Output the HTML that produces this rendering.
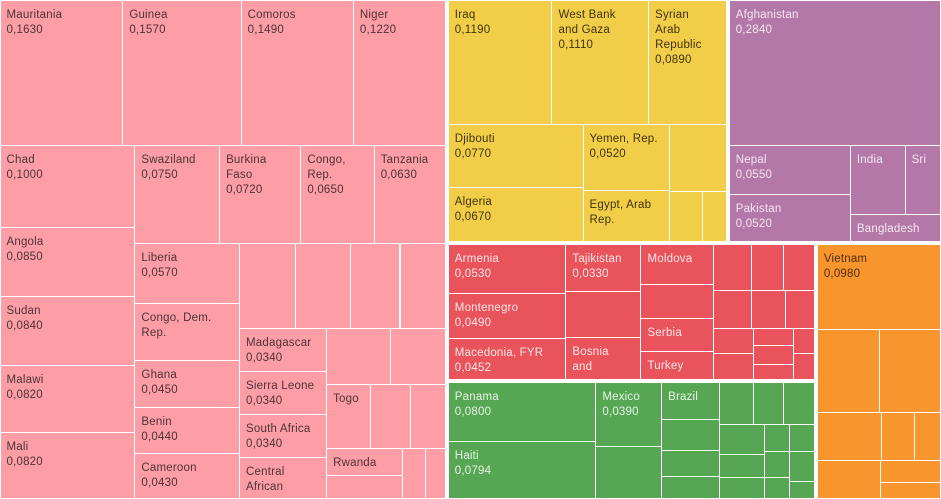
<!DOCTYPE html>
<html><head><meta charset="utf-8">
<style>
html,body{margin:0;padding:0;background:#fff;}
#chart{position:relative;width:941px;height:499px;overflow:hidden;background:#fff;font-family:"Liberation Sans",sans-serif;}
.leaf{position:absolute;overflow:hidden;box-sizing:border-box;}
.lbl{position:absolute;left:6px;top:7px;right:2px;font-size:11.5px;line-height:15px;letter-spacing:0.2px;white-space:nowrap;}
</style></head>
<body>
<div id="chart"></div>
<script>
// ---- data ----
const names = ["Mauritania","Guinea","Comoros","Niger","Chad","Angola","Sudan","Malawi","Mali","Swaziland","Burkina|Faso","Congo,|Rep.","Tanzania","Liberia","Congo, Dem.|Rep.","Ghana","Benin","Cameroon","p1","p2","p3","p4","Madagascar","Sierra Leone","South Africa","Central|African","p5","p6","Togo","p7","p8","Rwanda","p9","p10","p11",
"Iraq","West Bank|and Gaza","Syrian|Arab|Republic","Djibouti","Algeria","Yemen, Rep.","Egypt, Arab|Rep.","y1","y2","y3",
"Afghanistan","Nepal","Pakistan","India","Sri","Bangladesh",
"Armenia","Montenegro","Macedonia, FYR","Tajikistan","r1","Bosnia|and","Moldova","r2","Serbia","Turkey","r3","r4","r5","r6","r7","r8","r9","r10","r11","r12","r13","r14","r15",
"Panama","Haiti","Mexico","g1","Brazil","g2","g3","g4","g5","g6","g7","g8","g9","g10","g11","g12","g13","g14","g15","g16",
"Vietnam","o1","o2","o3","o4","o5","o6","o7","o8"];
const values = [0.1630,0.1570,0.1490,0.1220,0.1000,0.0850,0.0840,0.0820,0.0820,0.0750,0.0720,0.0650,0.0630,0.0570,0.0540,0.0450,0.0440,0.0430,0.043,0.043,0.038,0.035,0.0340,0.0340,0.0340,0.033,0.033,0.028,0.025,0.023,0.020,0.019,0.016,0.011,0.009,
0.1190,0.1110,0.0890,0.0770,0.0670,0.0520,0.040,0.035,0.015,0.011,
0.2840,0.0550,0.0520,0.035,0.023,0.022,
0.0530,0.0490,0.0452,0.0330,0.032,0.029,0.027,0.023,0.022,0.019,0.016,0.014,0.013,0.013,0.012,0.010,0.0095,0.0095,0.0065,0.007,0.0055,0.005,0.005,
0.0800,0.0794,0.0390,0.032,0.020,0.017,0.014,0.012,0.013,0.012,0.012,0.0125,0.0095,0.009,0.006,0.006,0.005,0.006,0.007,0.004,
0.0980,0.048,0.047,0.029,0.015,0.012,0.0225,0.012,0.0095];
const labelModes = [2,2,2,2,2,2,2,2,2,2,2,2,2,2,1,2,2,2,0,0,0,0,2,2,2,1,0,0,1,0,0,1,0,0,0,
2,2,2,2,2,2,1,0,0,0,
2,2,2,1,1,1,
2,2,2,2,0,1,1,0,1,1,0,0,0,0,0,0,0,0,0,0,0,0,0,
2,2,2,0,1,0,0,0,0,0,0,0,0,0,0,0,0,0,0,0,
2,0,0,0,0,0,0,0,0];
const groupNames = ["sub-saharan-africa","middle-east-north-africa","south-asia","europe-central-asia","latin-america","east-asia-pacific"];
const groupColors = ["#fd9ea6","#f2cd47","#b378a7","#e9535b","#57a654","#f8952c"];
const textColors = ["#4d3336","#40330c","#f6e6f2","#fde6e6","#e6f4e4","#4d2e0c"];
// ---- layout tree (structure only) ----
const H=(...c)=>({d:'h',c}), V=(...c)=>({d:'v',c});
const G=(g,node)=>({g,node});
let k=0; const n=()=>k++;
const pink = V(H(n(),n(),n(),n()),
  H(V(n(),n(),n(),n(),n()),
    V(H(n(),n(),n(),n()),
      H(V(n(),n(),n(),n(),n()),
        (()=>{const top=H(n(),n(),n(),n());
          const mad=V(n(),n(),n(),n());
          const r1=H(n(),n()); const r2=H(n(),n(),n());
          const r3=H(V(n(),n()),n(),n());
          return V(top,H(mad,V(r1,r2,r3)));})()))));
const yellow = (()=>{const t=H(n(),n(),n()); const c1=V(n(),n()); const c2=V(n(),n()); const c3=V(n(),H(n(),n())); return V(t,H(c1,c2,c3));})();
const purple = (()=>{const a=n(); const c1=V(n(),n()); const ih=H(n(),n()); const b=n(); return V(a,H(c1,V(ih,b)));})();
const red = (()=>{const c1=V(n(),n(),n()); const t=n(),r1=n(),bo=n(); const c2=V(t,r1,bo); const c3=V(n(),n(),n(),n());
  const s1=H(n(),n(),n()); const s2=H(n(),n(),n()); const s3=H(V(n(),n()),V(n(),n(),n()),V(n(),n()));
  return H(c1,c2,c3,V(s1,s2,s3));})();
const green = (()=>{const c1=V(n(),n()); const c2=V(n(),n()); const c3=V(n(),n(),n(),n());
  const t=H(n(),n(),n()); const b=H(V(n(),n(),n()),V(n(),n(),n()),V(n(),n(),n()));
  return H(c1,c2,c3,V(t,b));})();
const orange = (()=>{const v=n(); const r1=H(n(),n()); const r2=H(n(),n(),n()); const r3=H(n(),V(n(),n())); return V(v,V(r1,r2,r3));})();
const root = H(G(0,pink), V(H(G(1,yellow),G(2,purple)), H(V(G(3,red),G(4,green)),G(5,orange))));

function sum(node){
  if(typeof node==='number') return values[node] || 0;
  if(node.node) return sum(node.node);
  return node.c.reduce((a,c)=>a+sum(c),0);
}
const chart=document.getElementById('chart');
function layout(node,x,y,w,h,g){
  if(typeof node==='number'){ drawLeaf(node,x,y,w,h,g); return; }
  if(node.node!==undefined){
    const p=1.5;
    layout(node.node,x+p,y+p,w-2*p,h-2*p,node.g);return;
  }
  const tot=sum(node); let off=0;
  node.c.forEach(c=>{
    const s=sum(c)/tot;
    if(node.d==='h'){ layout(c,x+off*w,y,s*w,h,g); }
    else { layout(c,x,y+off*h,w,s*h,g); }
    off+=s;
  });
}
function drawLeaf(i,x,y,w,h,g){
  const el=document.createElement('div');
  el.className='leaf';
  const nm=String(names[i]||('tile'+i));
  
  
  el.style.left=(x+0.5)+'px'; el.style.top=(y+0.5)+'px';
  el.style.width=Math.max(0,w-1)+'px'; el.style.height=Math.max(0,h-1)+'px';
  el.style.background=groupColors[g];
  const m=labelModes[i]||0;
  if(m>0){
    const t=document.createElement('div');
    t.className='lbl';
    
    
    t.style.color=textColors[g];
    let html=nm.split('|').join('<br>');
    if(m===2) html+='<br>'+values[i].toFixed(4).replace('.',',');
    t.innerHTML=html;
    el.appendChild(t);
  }
  chart.appendChild(el);
}
layout(root,-1.5,-1.5,944,502,null);
</script>
</body></html>
